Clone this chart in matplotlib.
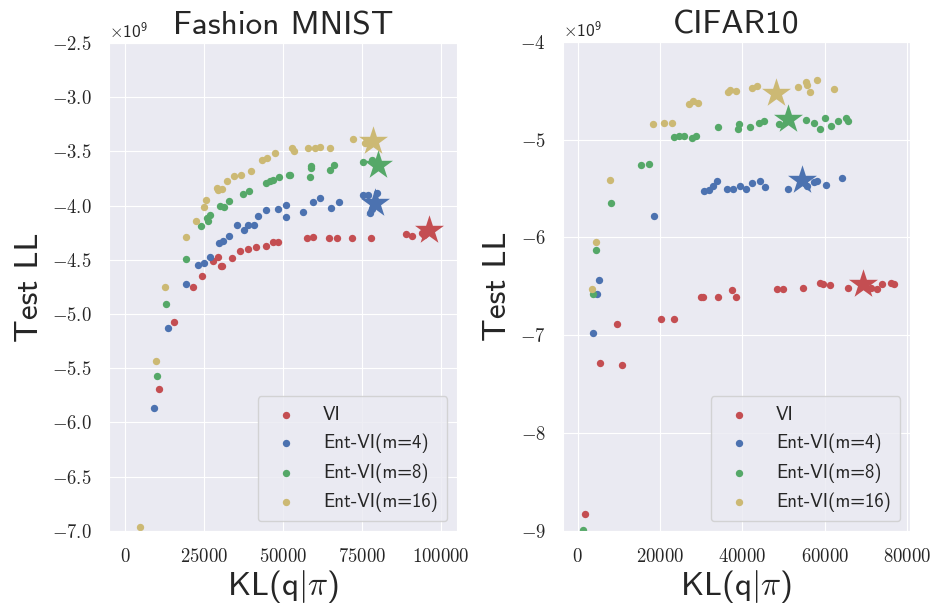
import matplotlib
matplotlib.use("Agg")
import matplotlib.pyplot as plt
import seaborn as sns
from matplotlib.ticker import ScalarFormatter, MultipleLocator

# Fashion MNIST: KL(q|pi) vs test LL (LL in units of 1e9)
fm_kl_vi = [10760, 15500, 21610, 24460, 27750, 29530, 30270, 30800, 33760, 36390,
            39030, 41350, 44620, 46940, 48310, 57490, 59600, 64450, 67090, 71930,
            77850, 88920, 90730, 93890, 94700]
fm_ll_vi = [-5.689, -5.07, -4.749, -4.648, -4.51, -4.473, -4.559, -4.559, -4.479, -4.418,
            -4.403, -4.381, -4.369, -4.332, -4.332, -4.301, -4.292, -4.298, -4.301, -4.301,
            -4.301, -4.258, -4.28, -4.249, -4.27]
fm_kl_m4 = [9180, 13710, 19300, 23000, 25000, 26900, 29850, 31120, 32810, 35340,
            37760, 38820, 40930, 42090, 44520, 48310, 50850, 50950, 56430, 59390,
            61710, 65290, 67820, 75420, 77000, 79640, 77530, 78300]
fm_ll_m4 = [-5.87, -5.129, -4.727, -4.547, -4.525, -4.476, -4.341, -4.326, -4.283, -4.179,
            -4.222, -4.182, -4.179, -4.096, -4.044, -4.032, -4.102, -3.998, -4.06, -3.968,
            -3.934, -4.023, -3.97, -3.903, -3.9, -3.888, -4.065, -4.03]
fm_kl_m8 = [10020, 13080, 19300, 23950, 25840, 26370, 26900, 30060, 31430, 33020,
            37440, 39340, 44620, 45900, 46730, 48840, 51800, 52220, 58650, 58860,
            58860, 64870, 66240, 75420, 78060]
fm_ll_m8 = [-5.576, -4.908, -4.488, -4.188, -4.112, -4.145, -4.084, -4.005, -4.014, -3.961,
            -3.897, -3.867, -3.79, -3.77, -3.765, -3.735, -3.716, -3.716, -3.732, -3.652,
            -3.637, -3.667, -3.621, -3.6, -3.575]
fm_kl_m16 = [4750, 9700, 12660, 19200, 22370, 25100, 25630, 29010, 29600, 30590,
             32170, 34490, 36810, 39770, 43450, 44840, 47470, 52740, 53580, 58010,
             60130, 61710, 64870, 72050, 75950]
fm_ll_m16 = [-6.96, -5.435, -4.755, -4.289, -4.139, -4.014, -3.952, -3.836, -3.86, -3.845,
             -3.775, -3.729, -3.713, -3.683, -3.575, -3.56, -3.514, -3.468, -3.499, -3.468,
             -3.465, -3.459, -3.468, -3.385, -3.42]
fm_star_kl = [96300, 79110, 80170, 78580]
fm_star_ll = [-4.225, -3.973, -3.621, -3.407]

# CIFAR10
c10_kl_vi = [1700, 5440, 9470, 10850, 20240, 23300, 30020, 30510, 33980, 37480,
             38350, 48300, 49930, 54850, 58830, 59640, 61260, 65780, 71200, 72820,
             73880, 76060, 76870]
c10_ll_vi = [-8.826, -7.28, -6.88, -7.3, -6.836, -6.836, -6.607, -6.607, -6.607, -6.536,
             -6.607, -6.529, -6.525, -6.518, -6.461, -6.48, -6.485, -6.52, -6.52, -6.529,
             -6.477, -6.47, -6.474]
c10_kl_m4 = [3810, 4710, 5100, 18450, 30750, 31970, 32770, 33740, 36170, 37790,
             39490, 40870, 42330, 44270, 45390, 51150, 55800, 57460, 58250, 60440, 64170]
c10_ll_m4 = [-6.972, -6.577, -6.434, -5.779, -5.524, -5.513, -5.479, -5.421, -5.5, -5.5,
             -5.479, -5.506, -5.445, -5.418, -5.486, -5.506, -5.47, -5.43, -5.421, -5.465, -5.394]
c10_kl_m8 = [1210, 3640, 4470, 8110, 15390, 17400, 23470, 24690, 25900, 27830,
             28740, 34080, 38930, 39080, 41920, 44100, 45150, 48790, 55590, 57450,
             58910, 60050, 61650, 63360, 65140, 65630]
c10_ll_m8 = [-8.99, -6.577, -6.127, -5.653, -5.258, -5.247, -4.978, -4.968, -4.968, -4.98,
             -4.968, -4.869, -4.893, -4.842, -4.876, -4.831, -4.808, -4.838, -4.798, -4.831,
             -4.89, -4.784, -4.856, -4.805, -4.78, -4.808]
c10_kl_m16 = [3400, 4300, 7860, 18300, 21040, 22820, 26940, 28080, 29130, 36410,
              37000, 38450, 42330, 43540, 53570, 55440, 55800, 56410, 58250, 62310]
c10_ll_m16 = [-6.529, -6.048, -5.411, -4.838, -4.835, -4.832, -4.634, -4.61, -4.627, -4.511,
              -4.49, -4.498, -4.474, -4.45, -4.463, -4.412, -4.44, -4.508, -4.389, -4.481]
c10_star_kl = [69420, 54610, 51210, 48160]
c10_star_ll = [-6.474, -5.411, -4.79, -4.525]

labels = ["VI", "Ent-VI(m=4)", "Ent-VI(m=8)", "Ent-VI(m=16)"]
colors = ["#C44E52", "#4C72B0", "#55A868", "#CCB974"]


class CMFormatter(ScalarFormatter):
    # tick labels in computer modern math instead of the text font
    def _set_format(self):
        super()._set_format()
        self.format = self.format.replace(r"\mathdefault", "")


sns.set_style("darkgrid")
plt.rcParams["mathtext.fontset"] = "cm"
plt.rcParams["axes.formatter.use_mathtext"] = True
plt.rcParams["font.family"] = ["cmss10", "DejaVu Sans"]

fig = plt.figure(figsize=(9.36, 6.06), dpi=100)
ax1 = fig.add_axes([0.1165, 0.124, 0.3715, 0.805])
ax2 = fig.add_axes([0.6015, 0.124, 0.3705, 0.807])

panels = [
    (ax1, "Fashion MNIST",
     [(fm_kl_vi, fm_ll_vi), (fm_kl_m4, fm_ll_m4), (fm_kl_m8, fm_ll_m8), (fm_kl_m16, fm_ll_m16)],
     fm_star_kl, fm_star_ll, (-5000, 105000), (-7.0e9, -2.5e9), 25000),
    (ax2, "CIFAR10",
     [(c10_kl_vi, c10_ll_vi), (c10_kl_m4, c10_ll_m4), (c10_kl_m8, c10_ll_m8), (c10_kl_m16, c10_ll_m16)],
     c10_star_kl, c10_star_ll, (-3600, 80700), (-9.0e9, -4.0e9), 20000),
]

for ax, title, series, skl, sll, xlim, ylim, xstep in panels:
    for (kl, ll), lab, col in zip(series, labels, colors):
        ax.scatter(kl, [v * 1e9 for v in ll], s=28, color=col, linewidth=0, label=lab)
    for kl, ll, col in zip(skl, sll, colors):
        ax.scatter([kl], [ll * 1e9], s=480, marker="*", color=col, linewidth=0)
    ax.set_xlim(*xlim)
    ax.set_ylim(*ylim)
    ax.xaxis.set_major_locator(MultipleLocator(xstep))
    ax.yaxis.set_major_formatter(CMFormatter(useMathText=True))
    xfmt = CMFormatter(useMathText=True)
    xfmt.set_scientific(False)
    xfmt.set_useOffset(False)
    ax.xaxis.set_major_formatter(xfmt)
    ax.tick_params(labelsize=13.5, pad=9)
    ax.yaxis.get_offset_text().set_fontsize(12.5)
    ax.set_title(title, fontsize=24)
    ax.set_xlabel(r"KL(q$|\pi$)", fontsize=24, labelpad=1)
    ax.set_ylabel("Test LL", fontsize=24, labelpad=6)
    ax.legend(loc="lower right", fontsize=13.5, frameon=True, facecolor="#EAEAF2",
              edgecolor="0.8", handletextpad=1.0, borderpad=0.5, labelspacing=0.53)

fig.savefig("out.png", dpi=100)
